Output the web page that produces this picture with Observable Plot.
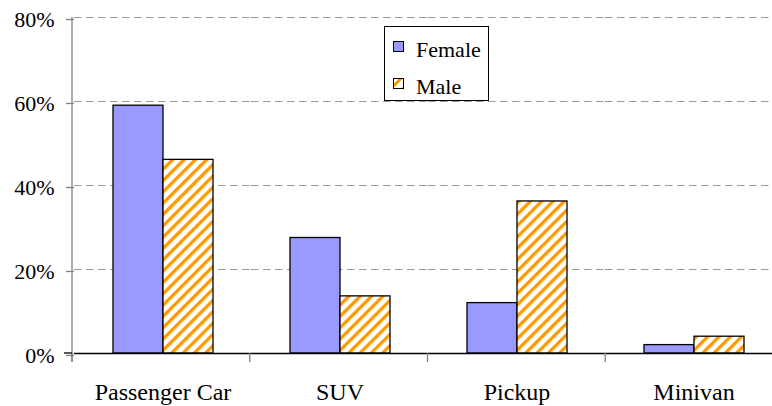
<!DOCTYPE html>
<html>
<head>
<meta charset="utf-8">
<script src="https://cdn.jsdelivr.net/npm/d3@7"></script>
<script src="https://cdn.jsdelivr.net/npm/@observablehq/plot@0.6"></script>
<style>
  html, body { margin: 0; padding: 0; background: #fff; overflow: hidden; }
  #wrap { position: relative; width: 772px; height: 406px; font-family: "Liberation Serif", "Times New Roman", serif; }
  #legend { position: absolute; left: 384px; top: 26px; width: 103px; height: 73px; border: 1px solid #000; background: #fff; box-sizing: content-box; }
  .sw { position: absolute; left: 8px; width: 9px; height: 9px; border: 1px solid #000; }
  .lt { position: absolute; left: 31px; font-size: 22px; line-height: 22px; color: #000; }
</style>
</head>
<body>
<div id="wrap"></div>
<script>
const categories = ["Passenger Car", "SUV", "Pickup", "Minivan"];
const genders = ["Female", "Male"];
const femaleValues = [59.0, 27.5, 12.0, 2.0];
const maleValues = [46.1, 13.6, 36.2, 4.0];
const yTicks = [0, 20, 40, 60, 80];

const data = [];
categories.forEach((c, i) => {
  data.push({category: c, gender: "Female", value: femaleValues[i]});
  data.push({category: c, gender: "Male", value: maleValues[i]});
});

const font = "'Liberation Serif', 'Times New Roman', serif";

const plot = Plot.plot({
  width: 772,
  height: 406,
  marginLeft: 72,
  marginRight: -11,
  marginTop: 17,
  marginBottom: 53,
  style: {fontFamily: font, fontSize: "22px", color: "#000", background: "#fff", overflow: "hidden"},
  fx: {domain: categories, padding: 0, label: null},
  x: {domain: genders, paddingInner: 0, paddingOuter: 0.745, axis: null},
  y: {domain: [0, 80], label: null},
  marks: [
    Plot.gridY({ticks: yTicks.filter(d => d > 0), stroke: "#9a9a9a", strokeOpacity: 1, strokeDasharray: "7.5,4.5", strokeWidth: 1}),
    Plot.barY(data.filter(d => d.gender === "Female"), {fx: "category", x: "gender", y: "value", fill: "#9999FF", stroke: "#000", strokeWidth: 1.3}),
    Plot.barY(data.filter(d => d.gender === "Male"), {fx: "category", x: "gender", y: "value", fill: "url(#hatch)", stroke: "#000", strokeWidth: 1.3}),
    Plot.ruleY([0], {stroke: "#000", strokeWidth: 1.3}),
    Plot.axisY({ticks: yTicks, tickFormat: d => d + "%", tickSize: 8, tickPadding: 12, stroke: "#808080", strokeWidth: 1.3, fontSize: 22, dy: 2, label: null}),
    Plot.axisFx({anchor: "bottom", tickSize: 0, tickPadding: 29.5, fontSize: 24, label: null})
  ]
});

// pattern defs for hatched bars
const svg = d3.select(plot);
const defs = svg.insert("defs", ":first-child");
const pat = defs.append("pattern")
  .attr("id", "hatch")
  .attr("patternUnits", "userSpaceOnUse")
  .attr("width", 8).attr("height", 8)
  .attr("patternTransform", "rotate(45)");
pat.append("rect").attr("width", 8).attr("height", 8).attr("fill", "#fff");
pat.append("rect").attr("width", 3.3).attr("height", 8).attr("fill", "#FF9900");

// axis line and category boundary ticks using Plot's scales
const fx = plot.scale("fx");
const y = plot.scale("y");
const fxScale = d3.scaleBand().domain(fx.domain).range(fx.range).paddingInner(0).paddingOuter(0);
const y0 = y.apply(0), yTop = y.apply(80);
const g = svg.append("g").attr("stroke", "#808080").attr("stroke-width", 1.3);
g.append("line").attr("x1", fxScale(categories[0])).attr("x2", fxScale(categories[0]))
  .attr("y1", yTop).attr("y2", y0 + 9);
categories.forEach(c => {
  g.append("line").attr("x1", fxScale(c)).attr("x2", fxScale(c)).attr("y1", y0).attr("y2", y0 + 9);
});
svg.append("line").attr("x1", fxScale(categories[0]) - 8).attr("x2", fxScale(categories[0]))
  .attr("y1", y0).attr("y2", y0).attr("stroke", "#000").attr("stroke-width", 1.3);

const wrap = document.getElementById("wrap");
wrap.appendChild(plot);

// legend
const legend = document.createElement("div");
legend.id = "legend";
const legendFills = {
  Female: "#9999FF",
  Male: "repeating-linear-gradient(135deg, #fff 0px, #fff 3px, #FF9900 3px, #FF9900 6px, #fff 6px, #fff 9px)"
};
genders.forEach((gname, i) => {
  const sw = document.createElement("div");
  sw.className = "sw";
  sw.style.top = (14 + i * 37) + "px";
  sw.style.background = legendFills[gname];
  legend.appendChild(sw);
  const t = document.createElement("div");
  t.className = "lt";
  t.style.top = (12 + i * 37) + "px";
  t.textContent = gname;
  legend.appendChild(t);
});
wrap.appendChild(legend);
</script>
</body>
</html>
